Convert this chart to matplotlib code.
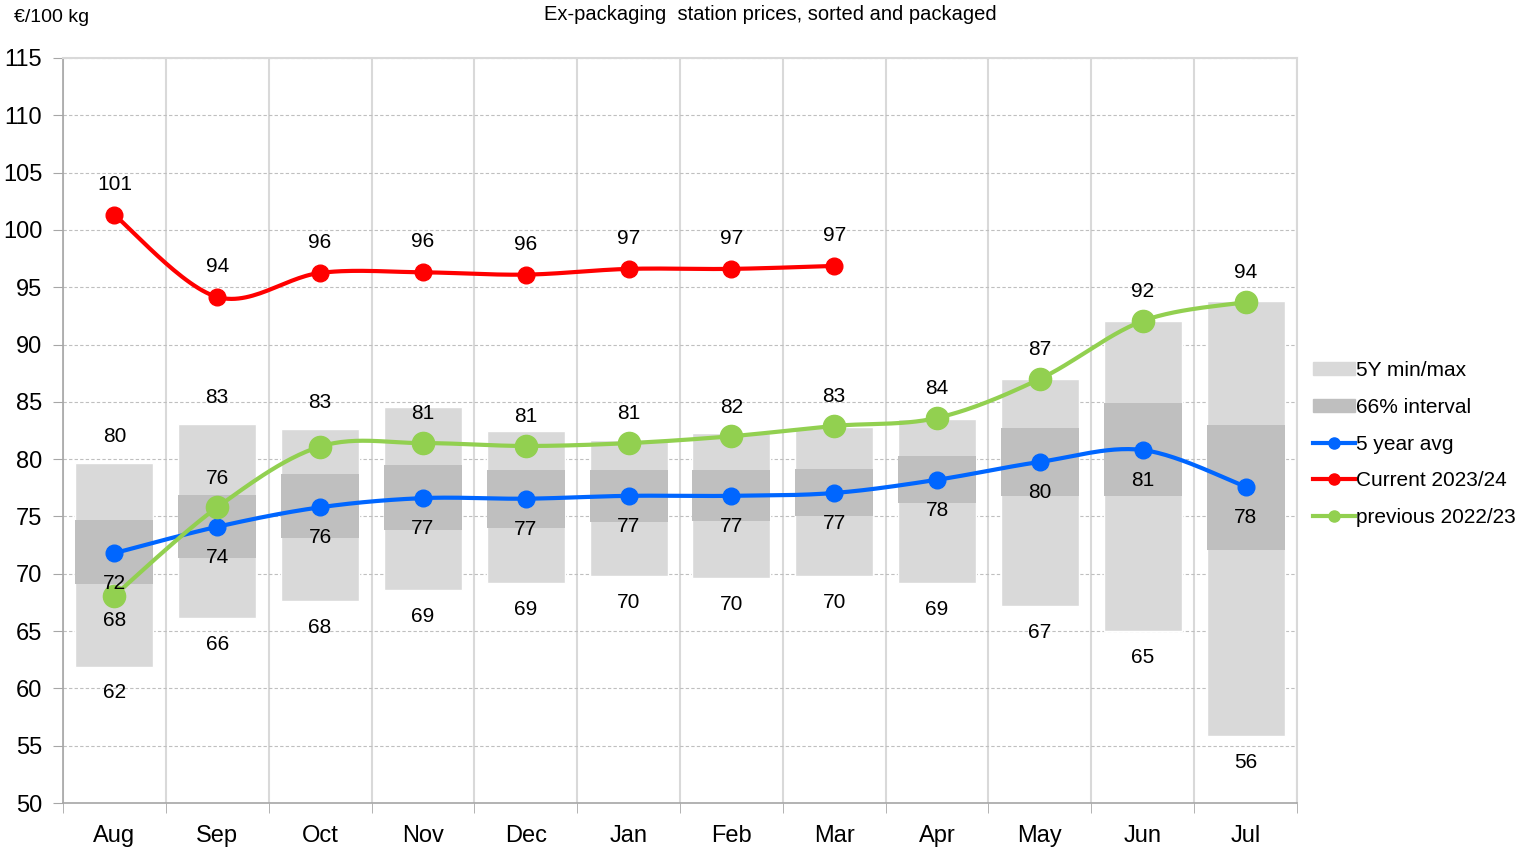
import numpy as np
import matplotlib
matplotlib.use("Agg")
import matplotlib.pyplot as plt
from matplotlib import font_manager
from matplotlib.patches import Patch
from matplotlib.lines import Line2D

# Data
months = ["Aug", "Sep", "Oct", "Nov", "Dec", "Jan", "Feb", "Mar", "Apr", "May", "Jun", "Jul"]
min5y = [61.9, 66.1, 67.6, 68.6, 69.2, 69.8, 69.6, 69.8, 69.2, 67.2, 65.0, 55.85]
max5y = [79.7, 83.1, 82.6, 84.55, 82.5, 81.7, 82.3, 82.8, 83.5, 87.0, 92.06, 93.8]
int_low = [69.1, 71.4, 73.1, 73.8, 74.0, 74.5, 74.6, 75.0, 76.2, 76.8, 76.8, 72.1]
int_high = [74.7, 76.9, 78.7, 79.5, 79.06, 79.06, 79.06, 79.1, 80.3, 82.7, 84.9, 83.0]
avg5y = [71.8, 74.1, 75.8, 76.6, 76.55, 76.8, 76.8, 77.05, 78.2, 79.76, 80.8, 77.6]
current = [101.3, 94.15, 96.25, 96.3, 96.1, 96.6, 96.6, 96.86]
previous = [68.1, 75.8, 81.1, 81.4, 81.15, 81.4, 82.0, 82.9, 83.6, 87.0, 92.06, 93.7]

# which labels are shown
max_label_idx = [0, 1, 2]
prev_label_above = [1, 3, 4, 5, 6, 7, 8, 9, 10, 11]
prev_label_below = [0]

# fonts
names = {f.name for f in font_manager.fontManager.ttflist}
NARROW = "Liberation Sans Narrow" if "Liberation Sans Narrow" in names else "Liberation Sans"
REG = "Liberation Sans"
plt.rcParams["font.family"] = [REG, "DejaVu Sans"]

LIGHT = "#d9d9d9"
DARK = "#bfbfbf"
BLUE = "#0066ff"
RED = "#ff0000"
GREEN = "#92d050"


def smooth(xs, ys, n=30):
    """Catmull-Rom style smoothing like Excel's smoothed line"""
    xs = np.asarray(xs, float)
    ys = np.asarray(ys, float)
    px, py = [], []
    for i in range(len(xs) - 1):
        x0, y0 = (xs[i - 1], ys[i - 1]) if i > 0 else (xs[i], ys[i])
        x1, y1 = xs[i], ys[i]
        x2, y2 = xs[i + 1], ys[i + 1]
        x3, y3 = (xs[i + 2], ys[i + 2]) if i + 2 < len(xs) else (x2, y2)
        c1x, c1y = x1 + (x2 - x0) / 6, y1 + (y2 - y0) / 6
        c2x, c2y = x2 - (x3 - x1) / 6, y2 - (y3 - y1) / 6
        t = np.linspace(0, 1, n)
        px.extend((1 - t) ** 3 * x1 + 3 * (1 - t) ** 2 * t * c1x + 3 * (1 - t) * t ** 2 * c2x + t ** 3 * x2)
        py.extend((1 - t) ** 3 * y1 + 3 * (1 - t) ** 2 * t * c1y + 3 * (1 - t) * t ** 2 * c2y + t ** 3 * y2)
    return px, py


fig = plt.figure(figsize=(15.31, 8.51), dpi=100)
ax = fig.add_axes([63 / 1531, 48 / 851, (1297 - 63) / 1531, (803 - 58) / 851])

x = np.arange(len(months))
bw = 0.76

# bars
ax.bar(x, np.array(max5y) - np.array(min5y), bottom=min5y, width=bw,
       color=LIGHT, edgecolor="white", linewidth=1, zorder=2)
ax.bar(x, np.array(int_high) - np.array(int_low), bottom=int_low, width=bw,
       color=DARK, edgecolor=DARK, linewidth=0, zorder=3)

# lines
for ys, col, ms, z in [(avg5y, BLUE, 12, 5), (previous, GREEN, 16, 6), (current, RED, 12, 7)]:
    xx = x[:len(ys)]
    sx, sy = smooth(xx, ys)
    ax.plot(sx, sy, color=col, lw=3, zorder=z, solid_capstyle="round")
    ax.plot(xx, ys, "o", color=col, ms=ms, zorder=z)

# data labels
lab_kw = dict(textcoords="offset points", ha="center", va="center", fontsize=15,
              color="black", zorder=10)
for i in range(len(months)):
    ax.annotate(f"{min5y[i]:.0f}", (x[i], min5y[i]), xytext=(0, -19), **lab_kw)
    ax.annotate(f"{avg5y[i]:.0f}", (x[i], avg5y[i]), xytext=(0, -22), **lab_kw)
for i in max_label_idx:
    ax.annotate(f"{max5y[i]:.0f}", (x[i], max5y[i]), xytext=(0, 19), **lab_kw)
for i in range(len(current)):
    ax.annotate(f"{current[i]:.0f}", (x[i], current[i]), xytext=(0, 22), **lab_kw)
for i in prev_label_above:
    ax.annotate(f"{previous[i]:.0f}", (x[i], previous[i]), xytext=(0, 21), **lab_kw)
for i in prev_label_below:
    ax.annotate(f"{previous[i]:.0f}", (x[i], previous[i]), xytext=(0, -18), **lab_kw)

# axes styling
ax.set_xlim(-0.5, len(months) - 0.5)
ax.set_ylim(50, 115)
ax.set_yticks(np.arange(50, 116, 5))
ax.set_xticks(x)
ax.set_xticklabels(months, fontsize=17, family=NARROW)
ax.set_xticks(np.arange(-0.5, len(months), 1), minor=True)
for lbl in ax.get_yticklabels():
    lbl.set_fontsize(17)
    lbl.set_family(NARROW)
ax.tick_params(axis="x", which="major", length=0, pad=16)
ax.tick_params(axis="x", which="minor", length=7, color="#a6a6a6", direction="out")
ax.tick_params(axis="y", length=7, color="#a6a6a6", direction="out", pad=8)

ax.grid(axis="y", which="major", color="#bfbfbf", linestyle=(0, (3, 2)), lw=0.8, zorder=0)
ax.grid(axis="x", which="minor", color=LIGHT, linestyle="-", lw=1.5, zorder=0)
ax.set_axisbelow(True)
for side in ["left", "bottom"]:
    ax.spines[side].set_color("#a6a6a6")
    ax.spines[side].set_linewidth(1.2)
for side in ["top", "right"]:
    ax.spines[side].set_color(LIGHT)
    ax.spines[side].set_linewidth(1.5)

fig.text(770 / 1531, 1 - 15 / 851, "Ex-packaging  station prices, sorted and packaged",
         ha="center", va="center", fontsize=14.5, family=NARROW)
fig.text(14 / 1531, 1 - 18 / 851, "€/100 kg", ha="left", va="center", fontsize=14, family=NARROW)

# legend
handles = [
    Patch(facecolor=LIGHT, edgecolor=LIGHT),
    Patch(facecolor=DARK, edgecolor=DARK),
    Line2D([], [], color=BLUE, lw=3, marker="o", ms=8),
    Line2D([], [], color=RED, lw=3, marker="o", ms=8),
    Line2D([], [], color=GREEN, lw=3, marker="o", ms=8),
]
labels = ["5Y min/max", "66% interval", "5 year avg", "Current 2023/24", "previous 2022/23"]
fig.legend(handles, labels, loc="center left", bbox_to_anchor=(1303 / 1531, 1 - 444 / 851),
           frameon=False, fontsize=15, handlelength=2.0, handleheight=0.55,
           handletextpad=0.05, labelspacing=0.85, borderpad=0)

fig.savefig("out.png", dpi=100)
